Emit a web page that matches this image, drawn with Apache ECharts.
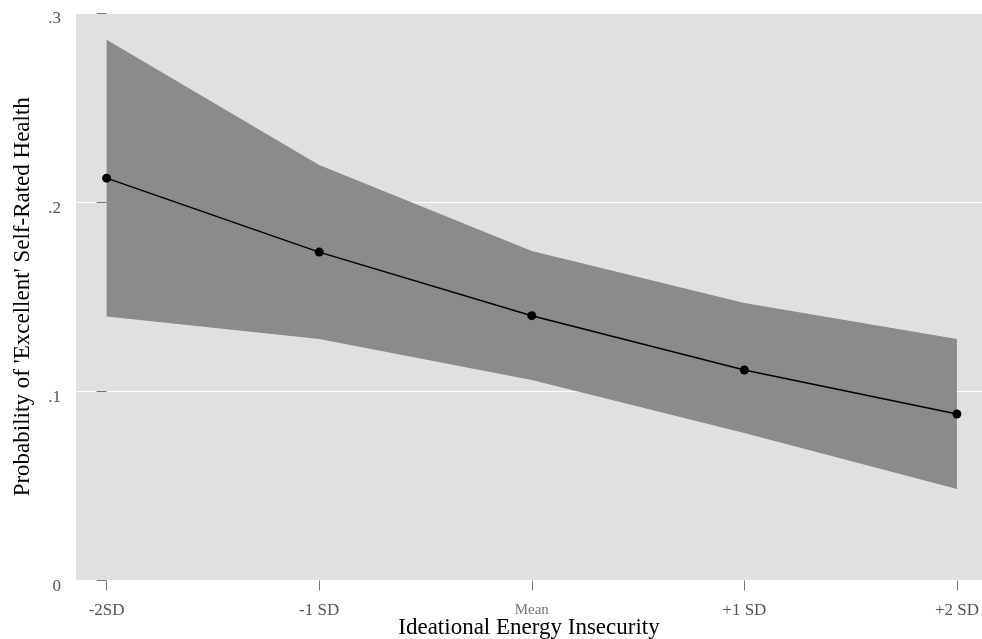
<!DOCTYPE html>
<html>
<head>
<meta charset="utf-8">
<script src="https://cdn.jsdelivr.net/npm/echarts@6/dist/echarts.min.js"></script>
<style>
  html, body { margin: 0; padding: 0; background: #fff; }
  #chart { width: 982px; height: 639px; }
</style>
</head>
<body>
<div id="chart"></div>
<script>
// x positions and their labels
const levels = ['-2SD', '-1 SD', 'Mean', '+1 SD', '+2 SD']
// predicted probability and 95% CI
const predicted = [0.2127, 0.1736, 0.1400, 0.1113, 0.0880]
const upperCI = [0.2858, 0.2197, 0.1742, 0.1467, 0.1277]
const lowerCI = [0.1395, 0.1277, 0.1060, 0.0780, 0.0484]
const yTicks = [0, 0.1, 0.2, 0.3]
const yTickLabels = ['0', '.1', '.2', '.3']

const font = '"Liberation Serif", "DejaVu Serif", serif'
const idx = levels.map((_, i) => i)

const chart = echarts.init(document.getElementById('chart'))

// CI band as one polygon: upper edge left->right, lower edge right->left
const renderBand = (params, api) => {
  const pts = []
  idx.forEach((i) => pts.push(api.coord([i, upperCI[i]])))
  idx.slice().reverse().forEach((i) => pts.push(api.coord([i, lowerCI[i]])))
  return {
    type: 'polygon',
    shape: { points: pts },
    style: { fill: '#8b8b8b' },
  }
}

chart.setOption({
  animation: false,
  textStyle: { fontFamily: font },
  grid: {
    left: 76,
    right: 0,
    top: 13,
    bottom: 58.5,
    outerBoundsMode: 'none',
    containLabel: false,
    show: true,
    backgroundColor: '#e0e0e0',
    borderWidth: 0,
  },
  xAxis: {
    type: 'value',
    min: -0.144,
    max: 4.118,
    name: 'Ideational Energy Insecurity',
    nameLocation: 'middle',
    nameGap: 36,
    nameMoveOverlap: false,
    nameTextStyle: { fontFamily: font, fontSize: 23, color: '#000' },
    axisLine: { show: false },
    axisTick: {
      show: true,
      customValues: idx,
      length: 10,
      lineStyle: { color: '#777', width: 1 },
    },
    axisLabel: {
      customValues: idx,
      margin: 22,
      color: '#555',
      fontSize: 17,
      fontFamily: font,
      formatter: (v) => {
        const l = levels[Math.round(v)]
        return l === 'Mean' ? '{m|' + l + '}' : l
      },
      rich: {
        m: { fontSize: 15, color: '#777', fontFamily: font },
      },
    },
    splitLine: { show: false },
  },
  yAxis: {
    type: 'value',
    min: 0,
    max: 0.3,
    interval: 0.1,
    name: "Probability of 'Excellent' Self-Rated Health",
    nameLocation: 'middle',
    nameGap: 42,
    nameMoveOverlap: false,
    nameTextStyle: { fontFamily: font, fontSize: 23, color: '#000' },
    axisLine: { show: false },
    axisTick: { show: true, length: 10, lineStyle: { color: '#777', width: 1 } },
    axisLabel: {
      margin: 15,
      color: '#555',
      fontSize: 17,
      fontFamily: font,
      verticalAlign: 'top',
      lineHeight: 12,
      formatter: (v) => yTickLabels[yTicks.findIndex((t) => Math.abs(t - v) < 1e-6)],
    },
    splitLine: { show: true, lineStyle: { color: '#ffffff', width: 1.2 } },
  },
  series: [
    {
      type: 'custom',
      renderItem: renderBand,
      data: [[0, 0]],
      silent: true,
      z: 1,
    },
    {
      type: 'line',
      data: idx.map((i) => [i, predicted[i]]),
      symbol: 'circle',
      symbolSize: 9,
      itemStyle: { color: '#000' },
      lineStyle: { color: '#000', width: 1.5 },
      z: 3,
    },
  ],
})
</script>
</body>
</html>
